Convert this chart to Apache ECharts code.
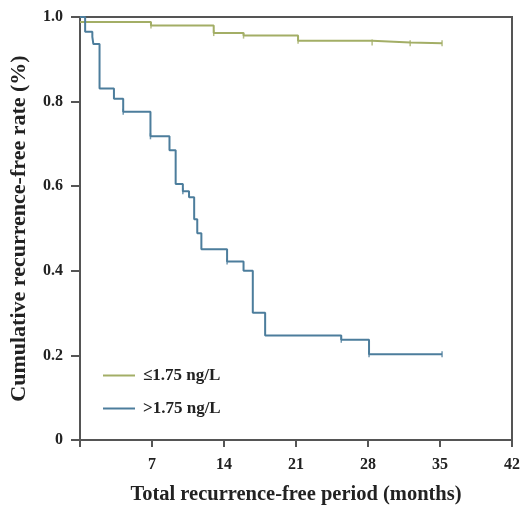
<!DOCTYPE html>
<html><head><meta charset="utf-8">
<script src="https://cdn.jsdelivr.net/npm/echarts@6/dist/echarts.min.js"></script>
<style>html,body{margin:0;padding:0;background:#fff}#c{width:523px;height:510px}</style>
</head><body><div id="c"></div>
<script>
// Kaplan-Meier step data (time in months, survival probability)
const lowTimes = [0, 6.9, 13.0, 15.9, 21.2, 28.4, 32.1, 35.2];
const lowSurv  = [0.988, 0.980, 0.962, 0.956, 0.944, 0.940, 0.938, 0.938];
const highTimes = [0, 0.5, 1.2, 1.3, 1.9, 3.3, 4.2, 6.85, 8.7, 9.3, 10.0, 10.6, 11.1, 11.4, 11.8, 14.3, 15.9, 16.8, 18.0, 25.4, 28.1, 35.2];
const highSurv  = [1.0, 0.965, 0.953, 0.936, 0.831, 0.807, 0.776, 0.718, 0.685, 0.605, 0.588, 0.574, 0.522, 0.489, 0.451, 0.422, 0.400, 0.301, 0.247, 0.237, 0.203, 0.203];
const lowCensor = [6.9, 13.0, 15.9, 21.2, 28.4, 32.1, 35.2];
const highCensor = [4.2, 6.85, 10.0, 14.3, 25.4, 28.1, 35.2];
const xTicks = [7, 14, 21, 28, 35, 42];
const yTicks = [0, 0.2, 0.4, 0.6, 0.8, 1.0];
const names = ['≤1.75 ng/L', '>1.75 ng/L'];

const GREEN = '#a3ae66', BLUE = '#4c7d9c', AX = '#555';
const FONT = 'Liberation Serif';

function pairs(t, s) { return t.map((v, i) => [v, s[i]]); }
function survAt(t, times, surv) { let v = surv[0]; for (let i = 0; i < times.length; i++) if (times[i] <= t) v = surv[i]; return v; }
function censorPts(c, times, surv) { return c.map(t => [t, survAt(t, times, surv)]); }

const chart = echarts.init(document.getElementById('c'));
chart.setOption({
  animation: false,
  grid: { left: 80, right: 8, top: 17, bottom: 66, show: true, borderColor: AX, borderWidth: 2, backgroundColor: 'transparent' },
  legend: {
    orient: 'vertical', left: 98, top: 362, itemGap: 16, itemWidth: 32, itemHeight: 2, icon: 'rect',
    textStyle: { fontFamily: FONT, fontWeight: 'bold', fontSize: 17, color: '#222', padding: [0, 0, 0, 3] },
    data: names
  },
  xAxis: {
    type: 'value', min: 0, max: 42, interval: 7,
    axisLine: { show: true, lineStyle: { color: AX, width: 2 } },
    axisTick: { show: true, length: 7, lineStyle: { color: AX, width: 2 } },
    splitLine: { show: false },
    axisLabel: { margin: 17, fontFamily: FONT, fontWeight: 'bold', fontSize: 16, color: '#222',
      formatter: v => xTicks.includes(v) ? String(v) : '' },
    name: 'Total recurrence-free period (months)', nameLocation: 'middle', nameGap: 44,
    nameTextStyle: { fontFamily: FONT, fontWeight: 'bold', fontSize: 20.5, color: '#222' }
  },
  yAxis: {
    type: 'value', min: 0, max: 1, interval: 0.2,
    axisLine: { show: true, lineStyle: { color: AX, width: 2 } },
    axisTick: { show: true, length: 9, lineStyle: { color: AX, width: 2 } },
    splitLine: { show: false },
    axisLabel: { margin: 17, fontFamily: FONT, fontWeight: 'bold', fontSize: 16, color: '#222',
      formatter: v => { const t = yTicks.find(y => Math.abs(y - v) < 1e-9); return t === undefined ? '' : (t === 0 ? '0' : t.toFixed(1)); } },
    name: 'Cumulative recurrence-free rate (%)', nameLocation: 'middle', nameGap: 50,
    nameTextStyle: { fontFamily: FONT, fontWeight: 'bold', fontSize: 22, color: '#222' }
  },
  series: [
    { name: names[0], type: 'line', step: 'end', data: pairs(lowTimes, lowSurv), showSymbol: false, lineStyle: { color: GREEN, width: 2 }, itemStyle: { color: GREEN } },
    { name: names[1], type: 'line', step: 'end', data: pairs(highTimes, highSurv), showSymbol: false, lineStyle: { color: BLUE, width: 2 }, itemStyle: { color: BLUE } },
    { type: 'scatter', data: censorPts(lowCensor, lowTimes, lowSurv), symbol: 'rect', symbolSize: [1.5, 6], itemStyle: { color: GREEN }, silent: true },
    { type: 'scatter', data: censorPts(highCensor, highTimes, highSurv), symbol: 'rect', symbolSize: [1.5, 6], itemStyle: { color: BLUE }, silent: true }
  ]
});
</script></body></html>
